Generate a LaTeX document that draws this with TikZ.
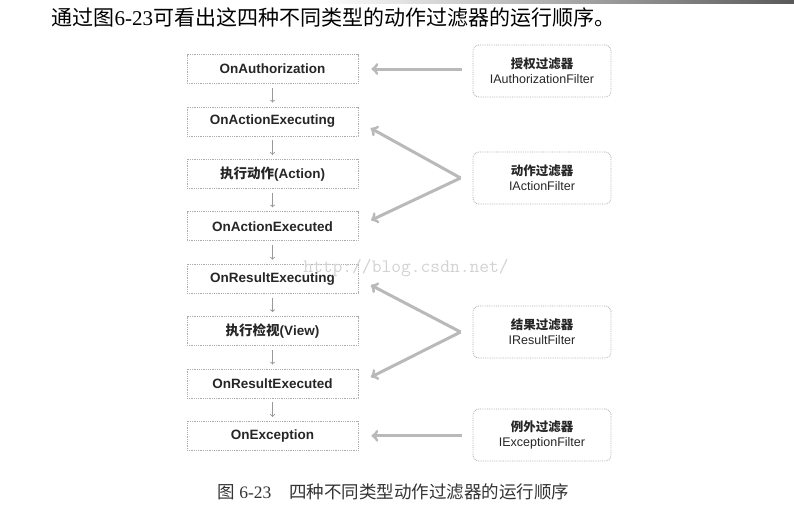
\documentclass[tikz,border=0pt]{standalone}
\usepackage{fontspec}
\setmainfont{Liberation Sans}
\newfontfamily\cjk{Noto Sans CJK SC}
\newfontfamily\serif{Liberation Serif}
\usepackage{tikz}
\usetikzlibrary{arrows,shapes,positioning}
\tikzstyle{call}=[
	rectangle,
	draw=gray!65,
	densely dotted,
	line width=0.8pt,
	minimum width=171pt,
	minimum height=29pt,
	inner sep=1mm,
	text=black!85,
	font=\fontsize{13.5}{16}\selectfont\bfseries,
	node distance=22.6pt
]
\tikzstyle{filter}=[
	rectangle,
	rounded corners=6pt,
	draw=gray!65,
	densely dotted,
	line width=0.8pt,
	minimum width=138pt,
	minimum height=52pt,
	align=center,
	text=black!85,
	font=\fontsize{12.5}{15}\selectfont
]
\tikzstyle{flow}=[
	-to,
	draw=gray!80,
	line width=0.9pt,
	shorten <=4pt,
	shorten >=4pt
]
\tikzstyle{hook}=[
	-to,
	draw=gray!55,
	line width=3pt
]
\begin{document}
\begin{tikzpicture}[x=1pt,y=-1pt]
\useasboundingbox (0,0) rectangle (794,512);
\shade[left color=white, right color=gray!70!black] (320,0) rectangle (794,3);
\node[anchor=west, font=\fontsize{21}{24}\selectfont] (title) at (48,18) {{\cjk 通过图}{\serif 6-23}{\cjk 可看出这四种不同类型的动作过滤器的运行顺序。}};

\node[call] (1) at (272.5,69) {OnAuthorization};
\node[call, below=of 1] (2) {OnActionExecuting};
\node[call, below=of 2] (3) {{\cjk 执行动作}(Action)};
\node[call, below=of 3] (4) {OnActionExecuted};
\node[call, below=of 4] (5) {OnResultExecuting};
\node[call, below=of 5] (6) {{\cjk 执行检视}(View)};
\node[call, below=of 6] (7) {OnResultExecuted};
\node[call, below=of 7] (8) {OnException};

\foreach \i/\j in {1/2,2/3,3/4,4/5,5/6,6/7,7/8}
	\draw[flow] (\i) -- (\j);

\node[filter] (a) at (542,71) {{\cjk\bfseries 授权过滤器}\\IAuthorizationFilter};
\node[filter] (b) at (542,178) {{\cjk\bfseries 动作过滤器}\\IActionFilter};
\node[filter] (c) at (542,332) {{\cjk\bfseries 结果过滤器}\\IResultFilter};
\node[filter] (d) at (542,435) {{\cjk\bfseries 例外过滤器}\\IExceptionFilter};

\draw[hook, shorten <=11pt, shorten >=13pt] (a.west |- 1.east) -- (1.east);
\draw[hook, shorten <=11pt, shorten >=13pt] (d.west |- 8.east) -- (8.east);
\coordinate[left=12pt of b.west] (pb);
\coordinate[left=12pt of c.west] (pc);
\draw[hook, shorten >=14pt] (pb) -- (2.east);
\draw[hook, shorten >=14pt] (pb) -- (4.east);
\draw[hook, shorten >=14pt] (pc) -- (5.east);
\draw[hook, shorten >=14pt] (pc) -- (7.east);

\node[text=gray!35, font=\fontsize{19}{22}\selectfont\ttfamily] (mark) at (406,268) {http://blog.csdn.net/};

\node[anchor=west, text=black!80, font=\fontsize{17.5}{20}\selectfont\serif] (caption) at (214,492) {{\cjk 图} 6-23\hspace{18pt}{\cjk 四种不同类型动作过滤器的运行顺序}};
\end{tikzpicture}
\end{document}
